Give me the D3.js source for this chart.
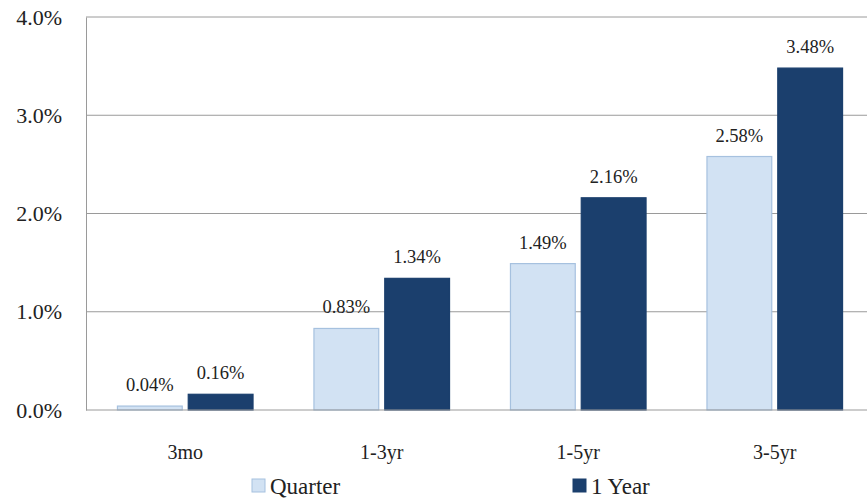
<!DOCTYPE html>
<html lang="en">
<head>
<meta charset="utf-8">
<title>Returns by maturity</title>
<script src="https://d3js.org/d3.v7.min.js"></script>
<style>
  body { margin: 0; background: #fff; }
</style>
</head>
<body>
<script>
const categories = ["3mo", "1-3yr", "1-5yr", "3-5yr"];
const seriesNames = ["Quarter", "1 Year"];
const quarter = [0.04, 0.83, 1.49, 2.58];
const oneYear = [0.16, 1.34, 2.16, 3.48];
const yTicks = [0, 1, 2, 3, 4];

const width = 867, height = 500;
const plotLeft = 86, plotRight = 874, plotTop = 17, plotBottom = 410;
const serif = '"Liberation Serif", "Times New Roman", serif';
const colors = ["#d2e2f3", "#1b3f6d"];
const strokes = ["#a6c1df", "#1b3f6d"];

const rows = categories.map((c, i) => ({cat: c, vals: [quarter[i], oneYear[i]]}));

const x = d3.scaleBand().domain(categories).range([plotLeft, plotRight]).paddingInner(0.31).paddingOuter(0.16);
const x1 = d3.scaleBand().domain([0, 1]).range([0, x.bandwidth()]).paddingInner(0.085);
const y = d3.scaleLinear().domain([0, 4]).range([plotBottom, plotTop]);

const svg = d3.select("body").append("svg").attr("width", width).attr("height", height);

// gridlines
svg.append("g").selectAll("line").data(yTicks.slice(1)).join("line")
  .attr("x1", plotLeft).attr("x2", width)
  .attr("y1", d => y(d)).attr("y2", d => y(d))
  .attr("stroke", "#9a9a9a").attr("stroke-width", 1);

// y axis
const yAxis = d3.axisLeft(y).tickValues(yTicks).tickSize(0).tickPadding(24)
  .tickFormat(d => d3.format(".1f")(d) + "%");
const gy = svg.append("g").attr("transform", `translate(${plotLeft},0)`).call(yAxis);
gy.select(".domain").attr("stroke", "#9a9a9a");
gy.selectAll("text").style("font-family", serif).style("font-size", "22px").attr("fill", "#222");

// bars
const groups = svg.append("g").selectAll("g").data(rows).join("g")
  .attr("transform", d => `translate(${x(d.cat)},0)`);
groups.selectAll("rect").data(d => d.vals).join("rect")
  .attr("x", (d, i) => x1(i)).attr("width", x1.bandwidth())
  .attr("y", d => y(d)).attr("height", d => plotBottom - y(d))
  .attr("fill", (d, i) => colors[i]).attr("stroke", (d, i) => strokes[i]).attr("stroke-width", 1.2);
groups.selectAll("text").data(d => d.vals).join("text")
  .attr("x", (d, i) => x1(i) + x1.bandwidth() / 2)
  .attr("y", d => y(d) - 15)
  .attr("text-anchor", "middle")
  .attr("fill", "#222")
  .style("font-family", serif)
  .style("font-size", "18.5px")
  .text(d => d3.format(".2f")(d) + "%");

// baseline
svg.append("line").attr("x1", plotLeft).attr("x2", width).attr("y1", plotBottom).attr("y2", plotBottom)
  .attr("stroke", "#9a9a9a");

// x axis labels
const xAxis = d3.axisBottom(x).tickSize(0).tickPadding(35);
const gx = svg.append("g").attr("transform", `translate(0,${plotBottom})`).call(xAxis);
gx.select(".domain").remove();
gx.selectAll("text").style("font-family", serif).style("font-size", "20px").attr("fill", "#222");

// legend
const legendX = [252, 573];
const legend = svg.append("g").selectAll("g").data(seriesNames).join("g")
  .attr("transform", (d, i) => `translate(${legendX[i]},479)`);
legend.append("rect").attr("width", 13).attr("height", 13)
  .attr("fill", (d, i) => colors[i]).attr("stroke", (d, i) => strokes[i]);
legend.append("text").attr("x", 18).attr("y", 15)
  .attr("fill", "#222")
  .style("font-family", serif)
  .style("font-size", "23px")
  .text(d => d);
</script>
</body>
</html>
